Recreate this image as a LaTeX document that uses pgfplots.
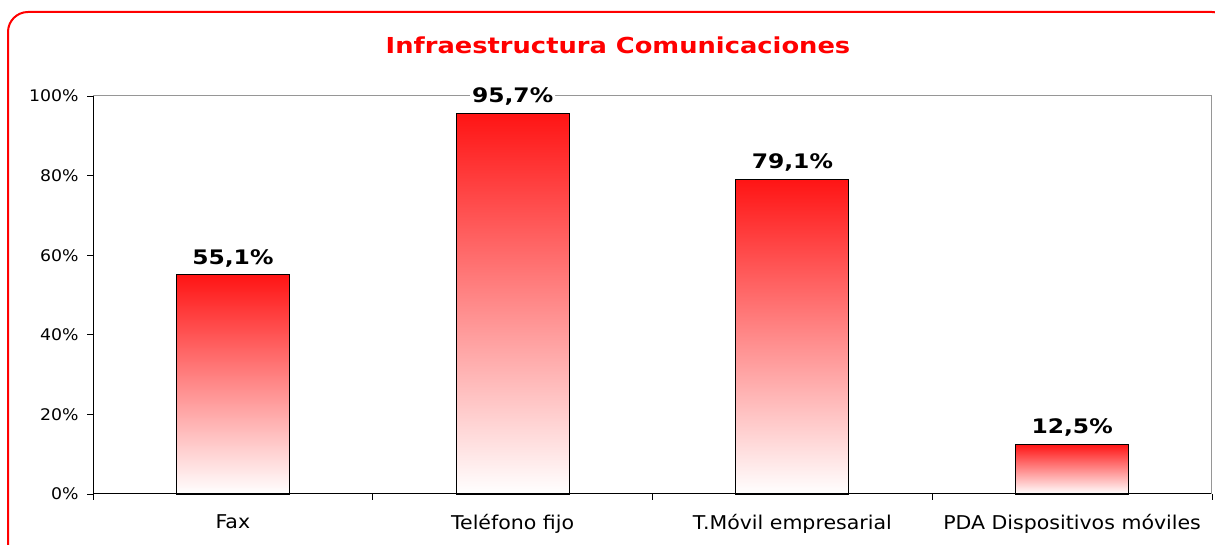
\documentclass[border=0pt]{standalone}
\usepackage{pgfplots}
\pgfplotsset{compat=1.18}
\usepackage{fontspec}
\setmainfont{DejaVu Sans}
\newfontfamily\regfont[FakeStretch=1.08]{DejaVu Sans}
\newfontfamily\boldfont[FakeStretch=1.17]{DejaVu Sans}
\definecolor{barred}{RGB}{255,20,20}
\definecolor{framered}{RGB}{255,0,0}
\definecolor{plotgray}{RGB}{150,150,150}

\begin{document}
\begin{tikzpicture}[x=1pt,y=1pt]
\useasboundingbox (0,0) rectangle (1215,545);
% frame
\begin{scope}
  \clip (0,0) rectangle (1215,545);
  \draw[framered, line width=2pt, rounded corners=20pt] (8,-20) rectangle (1232,533);
\end{scope}
\node[font=\fontsize{22}{26}\boldfont\bfseries, text=framered] at (618,500) {Infraestructura Comunicaciones};
\begin{axis}[
    at={(93pt,51pt)}, anchor=south west,
    scale only axis, width=1119pt, height=398pt,
    xmin=-0.5, xmax=3.5, ymin=0, ymax=100,
    clip=false,
    ybar, bar width=113pt, bar shift=0pt,
    axis x line*=bottom, axis y line*=left,
    axis line style={black, line width=1pt},
    tick align=outside,
    xtick={0,1,2,3},
    xticklabels={Fax, Teléfono fijo, T.Móvil empresarial, PDA Dispositivos móviles},
    major x tick style={draw=none},
    minor xtick={-0.5,0.5,1.5,2.5,3.5},
    minor x tick style={black, line width=0.8pt},
    major tick length=6pt, minor tick length=6pt,
    y tick style={black, line width=0.8pt},
    ytick={0,20,...,100},
    yticklabel={\pgfmathprintnumber{\tick}\%},
    /pgf/number format/assume math mode=true,
    yticklabel style={font=\fontsize{16}{19}\regfont, xshift=-5pt},
    xticklabel style={font=\fontsize{19}{22}\regfont, yshift=-11pt},
    nodes near coords={\pgfmathprintnumber[fixed,fixed zerofill,precision=1,use comma]{\pgfplotspointmeta}\%},
    every node near coord/.append style={font=\fontsize{20}{24}\boldfont\bfseries, text=black,
        fill=white, top color=white, bottom color=white, inner sep=2pt, yshift=5pt},
    bar style/.style={draw=black, line width=1.2pt, top color=barred, bottom color=white},
  ]
  \draw[plotgray, line width=1pt] (rel axis cs:0,1) -- (rel axis cs:1,1) -- (rel axis cs:1,0);
  % one plot per bar, so that each bar gets its own gradient
  \addplot[bar style] coordinates {(0,55.1)};
  \addplot[bar style] coordinates {(1,95.7)};
  \addplot[bar style] coordinates {(2,79.1)};
  \addplot[bar style] coordinates {(3,12.5)};
\end{axis}
\end{tikzpicture}
\end{document}
